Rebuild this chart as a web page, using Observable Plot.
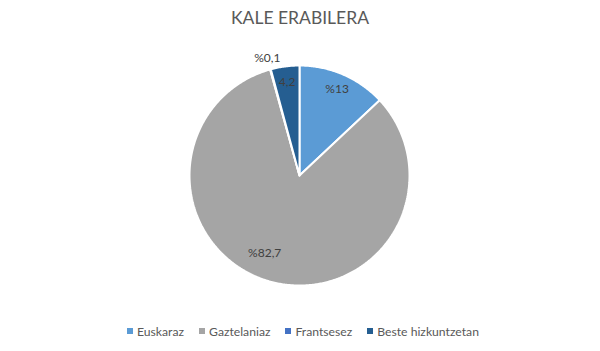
<!DOCTYPE html>
<html>
<head>
<meta charset="utf-8">
<script src="https://cdn.jsdelivr.net/npm/d3@7"></script>
<script src="https://cdn.jsdelivr.net/npm/@observablehq/plot@0.6"></script>
<style>
  html, body { margin: 0; padding: 0; background: #fff; }
  #wrap { width: 600px; height: 351px; overflow: hidden; font-family: Lato, "Open Sans", sans-serif; }
  #title { height: 36px; line-height: 36px; text-align: center; font-size: 17.5px; color: #595959; }
  #legend { height: 40px; padding-top: 5px; padding-left: 6px; display: flex; justify-content: center; align-items: center; }
  #legend > div { justify-content: center !important; margin: 0 !important; font-family: Lato, sans-serif !important; font-size: 12.2px !important; color: #595959 !important; min-height: 0 !important; }
  .lg-swatch { margin-right: 15px !important; }
  .lg-swatch:last-child { margin-right: 0 !important; }
  .lg-swatch > svg { margin-right: 4px !important; }
</style>
</head>
<body>
<div id="wrap">
  <div id="title">KALE ERABILERA</div>
  <div id="chart"></div>
  <div id="legend"></div>
</div>
<script>
const categories = ["Euskaraz", "Gaztelaniaz", "Frantsesez", "Beste hizkuntzetan"];
const values = [13, 82.7, 0.1, 4.2];
const labels = ["%13", "%82,7", "%0,1", "4,2"];
const colors = ["#5B9BD5", "#A5A5A5", "#4472C4", "#255E91"];

const W = 600, H = 270, R = 110, cx = 299, cy = 139;

const pie = d3.pie().sort(null).value(d => d.value);
const rows = categories.map((name, i) => ({name, value: values[i], label: labels[i]}));
const arcs = pie(rows);

// polygon points in unit-circle coordinates (angle 0 = top, clockwise)
const pts = [];
arcs.forEach(a => {
  const n = Math.max(2, Math.ceil((a.endAngle - a.startAngle) / 0.01));
  pts.push({name: a.data.name, x: 0, y: 0});
  for (let k = 0; k <= n; k++) {
    const t = a.startAngle + (a.endAngle - a.startAngle) * k / n;
    pts.push({name: a.data.name, x: Math.sin(t), y: Math.cos(t)});
  }
  pts.push({name: a.data.name, x: 0, y: 0});
});

const labelPts = arcs.map(a => {
  const mid = (a.startAngle + a.endAngle) / 2;
  const small = a.data.value < 1;
  const big = a.data.value > 50;
  const r = small ? 1.11 : big ? 0.77 : 0.86;
  const ang = big ? mid + 0.15 : mid;
  return {label: a.data.label, x: r * Math.sin(ang), y: r * Math.cos(ang)};
});

const chart = Plot.plot({
  width: W,
  height: H,
  margin: 0,
  x: {domain: [-cx / R, (W - cx) / R], range: [0, W], axis: null},
  y: {domain: [-(H - cy) / R, cy / R], range: [H, 0], axis: null},
  color: {domain: categories, range: colors},
  style: {fontFamily: "Lato, sans-serif", background: "white"},
  marks: [
    Plot.line(pts, {x: "x", y: "y", z: "name", fill: "name", stroke: "white", strokeWidth: 2, strokeLinejoin: "miter"}),
    Plot.text(labelPts, {x: "x", y: "y", text: "label", fontSize: 12, fill: "#404040"})
  ]
});
document.getElementById("chart").appendChild(chart);

const leg = Plot.legend({
  color: {domain: categories, range: colors, type: "categorical"},
  legend: "swatches",
  swatchSize: 6,
  className: "lg"
});
document.getElementById("legend").appendChild(leg);
</script>
</body>
</html>
